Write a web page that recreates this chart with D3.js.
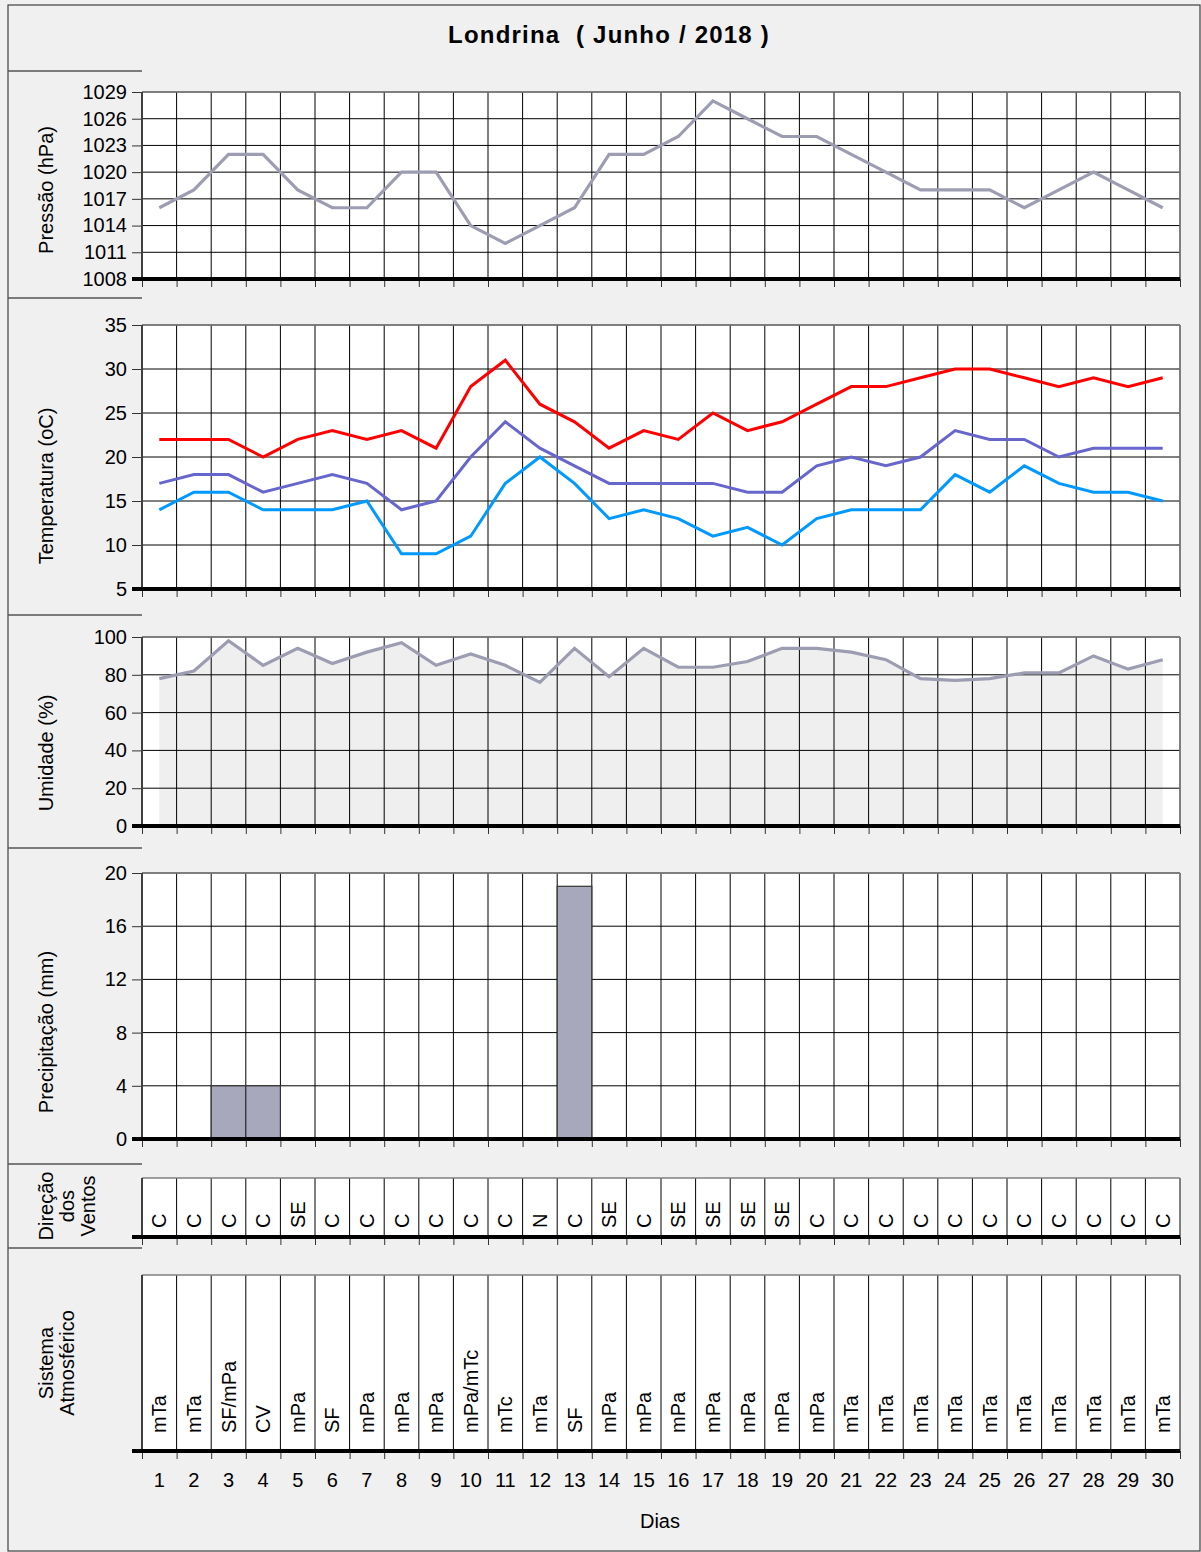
<!DOCTYPE html>
<html><head><meta charset="utf-8">
<script src="https://cdn.jsdelivr.net/npm/d3@7"></script>
<style>
html,body{margin:0;padding:0;background:#f0f0f0;}
svg{display:block;font-family:"Liberation Sans",Arial,sans-serif;}
</style></head>
<body>
<svg id="c" width="1201" height="1552"></svg>
<script>
// ---------- DATA ----------
const days = d3.range(1, 31);
const pressure = [1016,1018,1022,1022,1018,1016,1016,1020,1020,1014,1012,1014,1016,1022,1022,1024,1028,1026,1024,1024,1022,1020,1018,1018,1018,1016,1018,1020,1018,1016];
const tempMax = [22,22,22,20,22,23,22,23,21,28,31,26,24,21,23,22,25,23,24,26,28,28,29,30,30,29,28,29,28,29];
const tempMean = [17,18,18,16,17,18,17,14,15,20,24,21,19,17,17,17,17,16,16,19,20,19,20,23,22,22,20,21,21,21];
const tempMin = [14,16,16,14,14,14,15,9,9,11,17,20,17,13,14,13,11,12,10,13,14,14,14,18,16,19,17,16,16,15];
const humidity = [78,82,98,85,94,86,92,97,85,91,85,76,94,79,94,84,84,87,94,94,92,88,78,77,78,81,81,90,83,88];
const precip = [0,0,4,4,0,0,0,0,0,0,0,0,19,0,0,0,0,0,0,0,0,0,0,0,0,0,0,0,0,0];
const windDir = ["C","C","C","C","SE","C","C","C","C","C","C","N","C","SE","C","SE","SE","SE","SE","C","C","C","C","C","C","C","C","C","C","C"];
const systems = ["mTa","mTa","SF/mPa","CV","mPa","SF","mPa","mPa","mPa","mPa/mTc","mTc","mTa","SF","mPa","mPa","mPa","mPa","mPa","mPa","mPa","mTa","mTa","mTa","mTa","mTa","mTa","mTa","mTa","mTa","mTa"];
const pressureTicks = [1008,1011,1014,1017,1020,1023,1026,1029];
const tempTicks = [5,10,15,20,25,30,35];
const humTicks = [0,20,40,60,80,100];
const precipTicks = [0,4,8,12,16,20];
const title = "Londrina  ( Junho / 2018 )";

// ---------- LAYOUT ----------
const svg = d3.select("#c");
const X0 = 142, X1 = 1180;
const x = d3.scaleBand().domain(days).range([X0, X1]).padding(0);
const bw = x.bandwidth();
const cx = d => x(d) + bw / 2;
const FONT = 20;

// outer frame
svg.append("rect").attr("x", 8).attr("y", 5).attr("width", 1192).attr("height", 1546)
  .attr("fill", "#f0f0f0").attr("stroke", "#404040").attr("stroke-width", 1.2);

svg.append("text").attr("x", 609).attr("y", 43).attr("text-anchor", "middle")
  .attr("font-size", 24).attr("font-weight", "bold")
  .attr("letter-spacing", 1.2).style("white-space", "pre").text(title);

// left separators
[71, 298, 615, 848, 1164, 1248].forEach(yy => {
  svg.append("line").attr("x1", 8).attr("x2", 142).attr("y1", yy).attr("y2", yy)
    .attr("stroke", "#555").attr("stroke-width", 1.5);
});

function panel(top, bottom, opts) {
  const g = svg.append("g");
  g.append("rect").attr("x", X0).attr("y", top).attr("width", X1 - X0).attr("height", bottom - top)
    .attr("fill", "#fff");
  let y = null;
  if (opts.domain) y = d3.scaleLinear().domain(opts.domain).range([bottom, top]);
  if (opts.under) opts.under(g, y);
  // vertical grid
  const bounds = days.map(d => x(d)).concat([X1]).slice(1);
  g.selectAll(".vg").data(bounds).join("line")
    .attr("x1", d => d).attr("x2", d => d).attr("y1", top).attr("y2", bottom)
    .attr("stroke", "#000").attr("stroke-width", 1);
  // horizontal grid
  if (y) {
    g.selectAll(".hg").data(opts.ticks).join("line")
      .attr("x1", X0).attr("x2", X1).attr("y1", d => y(d)).attr("y2", d => y(d))
      .attr("stroke", "#000").attr("stroke-width", 1);
    const ax = d3.axisLeft(y).tickValues(opts.ticks).tickSize(10).tickPadding(5).tickFormat(d3.format("d"));
    const a = g.append("g").attr("transform", `translate(${X0},0)`).call(ax);
    a.select(".domain").remove();
    a.selectAll("line").attr("stroke", "#333");
    a.selectAll("text").attr("font-size", FONT).attr("font-family", "Liberation Sans, Arial, sans-serif").attr("fill", "#000");
  }
  // top border
  g.append("line").attr("x1", X0).attr("x2", X1).attr("y1", top).attr("y2", top).attr("stroke", "#808080").attr("stroke-width", 1.5);
  g.append("line").attr("x1", X1).attr("x2", X1).attr("y1", top).attr("y2", bottom).attr("stroke", "#808080").attr("stroke-width", 1.5);
  if (opts.over) opts.over(g, y);
  // left axis
  g.append("line").attr("x1", X0).attr("x2", X0).attr("y1", top).attr("y2", bottom).attr("stroke", "#404040").attr("stroke-width", 2);
  // bottom axis
  const xb = d3.axisBottom(d3.scaleLinear().domain([0, 30]).range([X0, X1]))
    .tickValues(d3.range(0, 31)).tickSize(8).tickFormat("");
  const b = g.append("g").attr("transform", `translate(0,${bottom})`).call(xb);
  b.select(".domain").remove();
  b.selectAll("line").attr("stroke", "#333");
  g.append("line").attr("x1", 132).attr("x2", X1).attr("y1", bottom).attr("y2", bottom)
    .attr("stroke", "#000").attr("stroke-width", 4);
  return y;
}

function yTitle(lines, cy, baselines) {
  lines.forEach((t, i) => {
    svg.append("text").attr("transform", `translate(${baselines[i]},${cy}) rotate(-90)`)
      .attr("text-anchor", "middle").attr("font-size", FONT).text(t);
  });
}

// Pressure
panel(92, 279, {
  domain: [1008, 1029], ticks: pressureTicks,
  over: (g, y) => {
    g.append("path").datum(pressure).attr("fill", "none").attr("stroke", "#9d9db2").attr("stroke-width", 3.2)
      .attr("d", d3.line().x((d, i) => cx(days[i])).y(d => y(d)));
  }
});
yTitle(["Pressão (hPa)"], 190, [53]);

// Temperature
panel(325, 589, {
  domain: [5, 35], ticks: tempTicks,
  over: (g, y) => {
    [[tempMax, "#ff0000"], [tempMean, "#6666cc"], [tempMin, "#0099ff"]].forEach(([s, c]) => {
      g.append("path").datum(s).attr("fill", "none").attr("stroke", c).attr("stroke-width", 3)
        .attr("d", d3.line().x((d, i) => cx(days[i])).y(d => y(d)));
    });
  }
});
yTitle(["Temperatura (oC)"], 486, [53]);

// Humidity
panel(637, 826, {
  domain: [0, 100], ticks: humTicks,
  under: (g, y) => {
    g.append("path").datum(humidity).attr("fill", "#efefef")
      .attr("d", d3.area().x((d, i) => cx(days[i])).y0(y(0)).y1(d => y(d)));
  },
  over: (g, y) => {
    g.append("path").datum(humidity).attr("fill", "none").attr("stroke", "#9d9db2").attr("stroke-width", 3.2)
      .attr("d", d3.line().x((d, i) => cx(days[i])).y(d => y(d)));
  }
});
yTitle(["Umidade (%)"], 753, [53]);

// Precipitation
panel(873, 1139, {
  domain: [0, 20], ticks: precipTicks,
  over: (g, y) => {
    g.selectAll(".bar").data(precip.map((v, i) => ({ d: days[i], v })).filter(o => o.v > 0)).join("rect")
      .attr("x", o => x(o.d)).attr("width", bw).attr("y", o => y(o.v)).attr("height", o => y(0) - y(o.v))
      .attr("fill", "#a8a8bd").attr("stroke", "#333").attr("stroke-width", 1.2);
  }
});
yTitle(["Precipitação (mm)"], 1032, [53]);

// Wind direction
panel(1178, 1237, {
  over: (g) => {
    g.selectAll(".wd").data(windDir).join("text")
      .attr("transform", (t, i) => `translate(${cx(days[i])},1228) rotate(-90)`)
      .attr("dy", "0.35em").attr("font-size", FONT).text(t => t);
  }
});
yTitle(["Direção", "dos", "Ventos"], 1206, [53, 74, 95]);

// Atmospheric system
panel(1275, 1451, {
  over: (g) => {
    g.selectAll(".sy").data(systems).join("text")
      .attr("transform", (t, i) => `translate(${cx(days[i])},1433) rotate(-90)`)
      .attr("dy", "0.35em").attr("font-size", FONT).text(t => t);
  }
});
yTitle(["Sistema", "Atmosférico"], 1363, [53, 74]);

// day labels
svg.selectAll(".day").data(days).join("text")
  .attr("x", d => cx(d)).attr("y", 1487).attr("text-anchor", "middle").attr("font-size", FONT).text(d => d);
svg.append("text").attr("x", 660).attr("y", 1528).attr("text-anchor", "middle").attr("font-size", FONT).text("Dias");
</script>
</body></html>
